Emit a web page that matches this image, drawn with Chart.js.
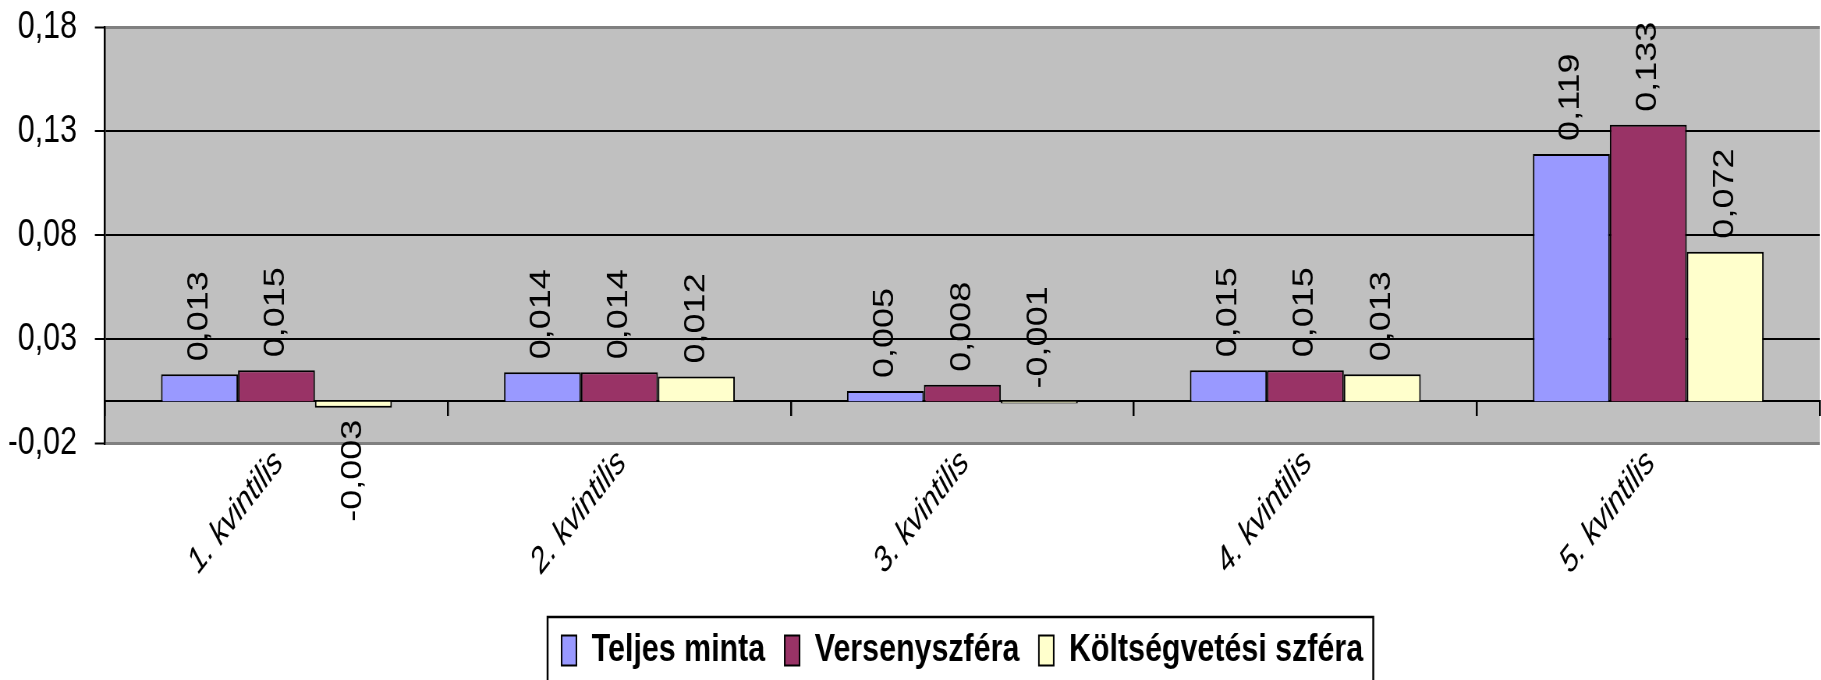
<!DOCTYPE html>
<html>
<head>
<meta charset="utf-8">
<script src="https://cdn.jsdelivr.net/npm/chart.js@4.4.1/dist/chart.umd.min.js"></script>
<style>
  html, body { margin: 0; padding: 0; background: #fff; overflow: hidden; }
  /* the original picture is squeezed horizontally, so draw wider and squeeze */
  #wrap { width: 2335px; height: 680px; transform: scaleX(0.78); transform-origin: 0 0; }
</style>
</head>
<body>
<div id="wrap"><canvas id="chart" width="2335" height="680"></canvas></div>
<script>
const categories = ["1. kvintilis", "2. kvintilis", "3. kvintilis", "4. kvintilis", "5. kvintilis"];
const teljesMinta = [0.013, 0.014, 0.005, 0.015, 0.119];
const versenyszfera = [0.015, 0.014, 0.008, 0.015, 0.133];
const koltsegvetesi = [-0.003, 0.012, -0.001, 0.013, 0.072];
const yTicks = [-0.02, 0.03, 0.08, 0.13, 0.18];

const FONT = "'Liberation Sans', Arial, sans-serif";
const fmt = (v, d) => v.toFixed(d).replace(".", ",");
const isEdge = c => c.index === 0 || c.index === yTicks.length - 1;

// grey plot area
const plotBg = {
  id: "plotBg",
  beforeDraw(chart) {
    const { ctx, chartArea: a } = chart;
    ctx.save();
    ctx.fillStyle = "#C0C0C0";
    ctx.fillRect(a.left, a.top, a.right - a.left, a.bottom - a.top);
    ctx.restore();
  }
};

// vertical value labels above / below the bars
const valueLabels = {
  id: "valueLabels",
  afterDatasetsDraw(chart) {
    const { ctx } = chart;
    ctx.save();
    ctx.font = "36px " + FONT;
    ctx.fillStyle = "#000";
    ctx.textBaseline = "middle";
    chart.data.datasets.forEach((ds, i) => {
      chart.getDatasetMeta(i).data.forEach((bar, j) => {
        const v = ds.data[j];
        // tiny negatives keep their label above the axis, as in the original
        const above = v > -0.002;
        ctx.save();
        if (above) {
          ctx.translate(bar.x, Math.min(bar.y, bar.base) - 13);
          ctx.rotate(-Math.PI / 2);
          ctx.textAlign = "left";
        } else {
          ctx.translate(bar.x, bar.y + 12);
          ctx.rotate(-Math.PI / 2);
          ctx.textAlign = "right";
        }
        ctx.fillText(fmt(v, 3), 0, 0);
        ctx.restore();
      });
    });
    ctx.restore();
  }
};

// frame around the legend
const legendFrame = {
  id: "legendFrame",
  afterDraw(chart) {
    const hb = chart.legend.legendHitBoxes;
    if (!hb || !hb.length) return;
    const last = hb[hb.length - 1];
    const { ctx } = chart;
    const left = hb[0].left - 18;
    const right = last.left + last.width + 13;
    const top = hb[0].top - 14;
    ctx.save();
    ctx.strokeStyle = "#000";
    ctx.lineWidth = 2.5;
    ctx.strokeRect(left, top, right - left, chart.height + 10 - top);
    ctx.restore();
  }
};

new Chart(document.getElementById("chart"), {
  type: "bar",
  data: {
    labels: categories,
    datasets: [
      { label: "Teljes minta", data: teljesMinta, backgroundColor: "#9999FF" },
      { label: "Versenyszféra", data: versenyszfera, backgroundColor: "#993366" },
      { label: "Költségvetési szféra", data: koltsegvetesi, backgroundColor: "#FFFFCC" }
    ]
  },
  options: {
    responsive: false,
    animation: false,
    layout: { padding: { top: 27, left: 12, right: 2, bottom: 0 } },
    datasets: {
      bar: {
        borderColor: "#000",
        borderWidth: 2,
        categoryPercentage: 0.673,
        barPercentage: 1
      }
    },
    scales: {
      x: {
        grid: { display: false },
        border: { display: false },
        ticks: {
          color: "#000",
          font: { family: FONT, size: 36, style: "italic" },
          minRotation: 45,
          maxRotation: 45,
          padding: -9,
          labelOffset: 3,
          autoSkip: false
        },
        afterFit(scale) { scale.height = 163; }
      },
      x2: {
        type: "category",
        position: { y: 0 },
        offset: true,
        grid: {
          offset: true,
          drawOnChartArea: false,
          drawTicks: true,
          tickLength: 14,
          color: "#000",
          lineWidth: 2.5
        },
        border: { color: "#000", width: 2 },
        ticks: { display: false }
      },
      y: {
        min: -0.02,
        max: 0.18,
        afterBuildTicks(scale) { scale.ticks = yTicks.map(v => ({ value: v })); },
        afterFit(scale) {
          scale.width = 122.6;
          scale.paddingTop = 0;
          scale.paddingBottom = 0;
        },
        grid: {
          color: c => isEdge(c) ? "#808080" : "#000",
          lineWidth: c => isEdge(c) ? 3 : 2,
          tickColor: "#000",
          tickWidth: 2,
          tickLength: 13
        },
        border: { color: "#000", width: 2.5 },
        ticks: {
          color: "#000",
          font: { family: FONT, size: 39 },
          padding: 23,
          callback: v => fmt(v, 2)
        }
      }
    },
    plugins: {
      legend: {
        position: "bottom",
        fullSize: false,
        labels: {
          color: "#000",
          font: { family: FONT, size: 39, weight: "bold" },
          boxWidth: 19,
          boxHeight: 30,
          padding: 25
        }
      },
      tooltip: { enabled: false }
    }
  },
  plugins: [plotBg, valueLabels, legendFrame]
});
</script>
</body>
</html>
